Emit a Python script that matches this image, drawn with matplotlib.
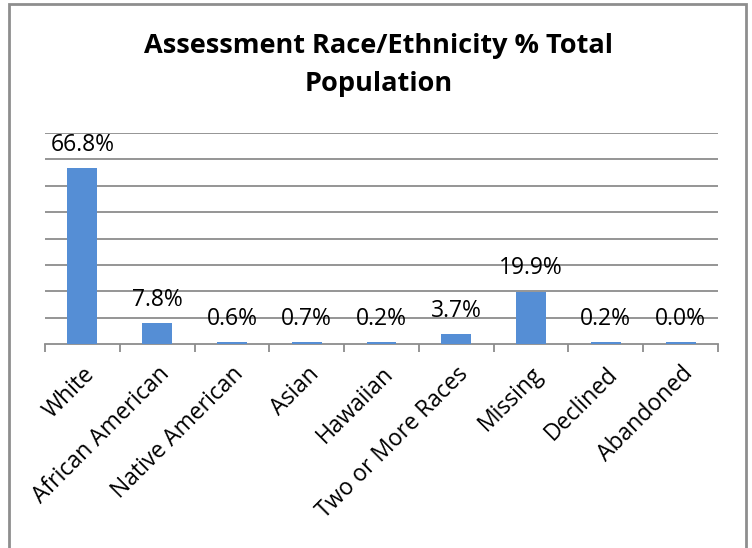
import matplotlib; matplotlib.use('Agg')
import matplotlib.pyplot as plt
from matplotlib.patches import Rectangle
import numpy as np

# Data
categories = ['White', 'African American', 'Native American', 'Asian', 'Hawaiian',
              'Two or More Races', 'Missing', 'Declined', 'Abandoned']
percent = [66.8, 7.8, 0.6, 0.7, 0.2, 3.7, 19.9, 0.2, 0.0]
title = 'Assessment Race/Ethnicity % Total\nPopulation'

plt.rcParams['font.family'] = ['Open Sans', 'DejaVu Sans']

bar_color = '#558ED5'
grid_color = '#8C8C8C'

fig = plt.figure(figsize=(7.52, 5.48), dpi=100)

# outer chart frame (open at the bottom, like the cropped original)
fig.patches.append(Rectangle((9 / 752, -0.1), 737 / 752, 1.1 - 4 / 548,
                             transform=fig.transFigure, fill=False,
                             edgecolor='#8E8E8E', linewidth=2))

ax = fig.add_axes([45 / 752, (548 - 344) / 548, 673 / 752, 211 / 548])
x = np.arange(len(categories))
# Excel draws tiny values as a thin sliver, so keep a small visible floor
heights = np.maximum(percent, 0.8)
ax.bar(x, heights, width=0.4, color=bar_color, zorder=3)

ax.set_xlim(-0.5, len(categories) - 0.5)
ax.set_ylim(0, 80)
ax.set_yticks(np.arange(10, 81, 10))
ax.yaxis.grid(True, color=grid_color, linewidth=1.3)
ax.tick_params(axis='y', length=0, labelleft=False)
for side in ['left', 'right', 'top']:
    ax.spines[side].set_visible(False)
ax.spines['bottom'].set_color(grid_color)
ax.spines['bottom'].set_linewidth(1.3)

# category boundary ticks
ax.set_xticks(np.arange(-0.5, len(categories), 1), minor=True)
ax.tick_params(axis='x', which='minor', length=6, width=1.3, color=grid_color)
ax.set_xticks(x)
ax.set_xticklabels(categories, rotation=45, ha='right', va='top',
                   rotation_mode='anchor', fontsize=16.5)
ax.tick_params(axis='x', which='major', length=0, pad=13)

for xi, v, h in zip(x, percent, heights):
    ax.annotate(f'{v:.1f}%', (xi, h), xytext=(0, 8),
                textcoords='offset points', ha='center', va='bottom', fontsize=16.5)

fig.text(0.503, 0.94, title, ha='center', va='top', fontsize=19.5,
         fontweight='bold', linespacing=1.6)

fig.savefig('out.png', dpi=100)
